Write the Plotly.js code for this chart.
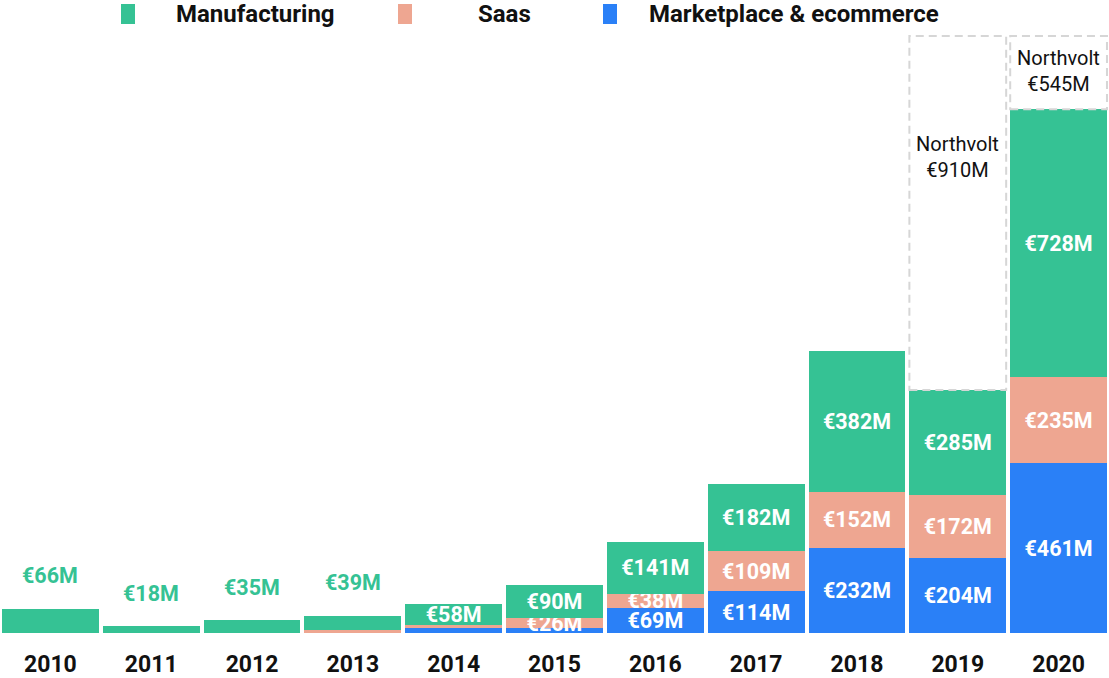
<!DOCTYPE html>
<html>
<head>
<meta charset="utf-8">
<script src="https://cdn.plot.ly/plotly-3.0.1.min.js"></script>
<style>html,body{margin:0;padding:0;background:#fff;}</style>
</head>
<body>
<div id="chart" style="width:1109px;height:678px"></div>
<script>
// ---- data ----
const years = ['2010','2011','2012','2013','2014','2015','2016','2017','2018','2019','2020'];
const manufacturing = [66, 18, 35, 39, 58, 90, 141, 182, 382, 285, 728];
const saas          = [0, 0, 0, 8, 9, 26, 38, 109, 152, 172, 235];
const marketplace   = [0, 0, 0, 0, 13, 14, 69, 114, 232, 204, 461];
const northvolt     = [0, 0, 0, 0, 0, 0, 0, 0, 0, 910, 545];
const seriesNames = ['Manufacturing', 'Saas', 'Marketplace & ecommerce'];

// ---- style ----
const GREEN = '#35c294', SALMON = '#eea691', BLUE = '#2a80f7';
const COLORS = [GREEN, SALMON, BLUE];
const FONT = 'Roboto, "Open Sans", sans-serif';
const yMax = 1626;
const fmt = v => '\u20ac' + v + 'M';

const totals = years.map((_, i) => manufacturing[i] + saas[i] + marketplace[i]);
const smallBar = totals.map(t => t < 75);

function labels(vals, minInside, isMan) {
  return vals.map((v, i) => (v >= minInside && !(isMan && smallBar[i]) ? fmt(v) : ''));
}

function barTrace(name, vals, color, isMan) {
  return {
    type: 'bar', name: name, x: years, y: vals,
    marker: {color: color, line: {width: 0}},
    text: labels(vals, 20, isMan),
    textposition: 'inside', insidetextanchor: 'middle', constraintext: 'none',
    textangle: 0, cliponaxis: false,
    textfont: {family: FONT, size: 21.5, color: '#ffffff', weight: 'bold'},
    hoverinfo: 'x+y+name', showlegend: false
  };
}

const traces = [
  barTrace(seriesNames[2], marketplace, BLUE, false),
  barTrace(seriesNames[1], saas, SALMON, false),
  barTrace(seriesNames[0], manufacturing, GREEN, true)
];

const shapes = [];
const annotations = [];
years.forEach((yr, i) => {
  // small bars: label above in green
  if (smallBar[i]) {
    annotations.push({
      x: i, y: totals[i], xref: 'x', yref: 'y', yshift: 33, showarrow: false,
      text: fmt(manufacturing[i]),
      font: {family: FONT, size: 21.5, color: GREEN, weight: 'bold'}
    });
  }
  if (northvolt[i] > 0) {
    const y0 = totals[i];
    const y1 = yMax - 3;   // off-scale segment: box runs to the top of the plot
    shapes.push({
      type: 'rect', xref: 'x', yref: 'y',
      x0: i - 0.48, x1: i + 0.48, y0: y0, y1: y1,
      line: {color: '#d6d6d6', width: 2, dash: '8px,5px'},
      fillcolor: 'rgba(0,0,0,0)', layer: 'above'
    });
    const frac = (i === 9) ? 0.657 : 0.52;
    annotations.push({
      x: i, y: y0 + (y1 - y0) * frac, xref: 'x', yref: 'y', showarrow: false,
      text: 'Northvolt<br>' + fmt(northvolt[i]),
      font: {family: FONT, size: 20, color: '#111111'}
    });
  }
});

// ---- legend (drawn as symbols + text above the plot) ----
const legendSymX = [128, 405, 610];
const legendTextX = [174, 476, 647];
const W = 1109, PLOT_TOP = 35, PLOT_BOTTOM = 633, PH = PLOT_BOTTOM - PLOT_TOP;
const py = pix => (PLOT_BOTTOM - pix) / PH;
seriesNames.forEach((nm, k) => {
  shapes.push({
    type: 'rect', xref: 'paper', yref: 'paper',
    x0: (legendSymX[k] - 7) / W, x1: (legendSymX[k] + 7) / W,
    y0: py(24), y1: py(4),
    line: {width: 0}, fillcolor: COLORS[k]
  });
  annotations.push({
    xref: 'paper', yref: 'paper', x: legendTextX[k] / W, y: py(14),
    xanchor: 'left', yanchor: 'middle', showarrow: false, text: nm,
    font: {family: FONT, size: 24, color: '#111111', weight: 'bold'}
  });
});

const layout = {
  width: 1109, height: 678,
  margin: {l: 0, r: 0, t: PLOT_TOP, b: 678 - PLOT_BOTTOM, pad: 0},
  barmode: 'stack', bargap: 0.04,
  paper_bgcolor: '#ffffff', plot_bgcolor: '#ffffff',
  font: {family: FONT, size: 20, color: '#111111'},
  showlegend: false,
  xaxis: {
    type: 'category', range: [-0.5, 10.5],
    showgrid: false, zeroline: false, showline: false, ticks: '',
    tickfont: {family: FONT, size: 23, color: '#111111', weight: 'bold'},
    ticklabelstandoff: 15
  },
  yaxis: {range: [0, yMax], visible: false, showgrid: false, zeroline: false},
  shapes: shapes,
  annotations: annotations
};

Plotly.newPlot('chart', traces, layout, {displayModeBar: false, staticPlot: true});
</script>
</body>
</html>
